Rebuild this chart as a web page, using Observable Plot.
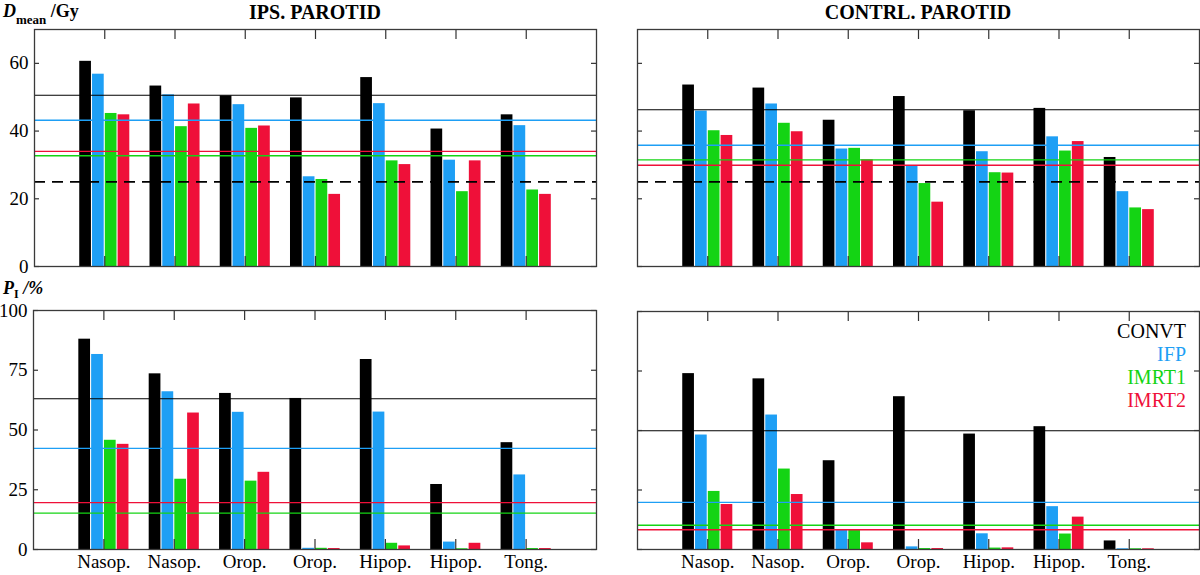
<!DOCTYPE html>
<html>
<head>
<meta charset="utf-8">
<script src="https://cdn.jsdelivr.net/npm/d3@7"></script>
<script src="https://cdn.jsdelivr.net/npm/@observablehq/plot@0.6"></script>
<style>
  body { margin: 0; background: #fff; font-family: "Liberation Serif", "Times New Roman", serif; }
  #wrap { position: relative; width: 1200px; height: 575px; overflow: hidden; background: #fff; }
  .panel { position: absolute; }
  .panel svg, .panel svg text { font-family: "Liberation Serif", "Times New Roman", serif !important; }
  .ttl { position: absolute; font-weight: bold; font-size: 20px; line-height: 20px; white-space: nowrap; transform: translateX(-50%); color: #000; }
  .ytitle { position: absolute; font-weight: bold; font-size: 18px; line-height: 20px; white-space: nowrap; color: #000; }
  .ytitle sub { font-size: 13px; vertical-align: -7px; line-height: 0; }
  .ytitle.p sub { font-size: 12px; vertical-align: -4px; }
  #legend { position: absolute; right: 14px; top: 320px; text-align: right; font-size: 20px; line-height: 23px; }
</style>
</head>
<body>
<div id="wrap"></div>
<script>
// ---- data ----
const categories = ["Nasop.", "Nasop.", "Orop.", "Orop.", "Hipop.", "Hipop.", "Tong."];
const series = ["CONVT", "IFP", "IMRT1", "IMRT2"];
const seriesColors = ["#000000", "#1e9ff5", "#14d414", "#ef1039"];

// Mean dose (Gy), ipsilateral parotid: rows = CONVT, IFP, IMRT1, IMRT2
const ipsDmean = [
  [60.6, 53.3, 50.4, 49.8, 55.8, 40.6, 44.8],
  [56.8, 50.7, 47.8, 26.5, 48.1, 31.4, 41.6],
  [45.2, 41.3, 40.8, 25.7, 31.2, 22.1, 22.6],
  [44.8, 48.0, 41.5, 21.3, 30.1, 31.2, 21.3]
];
const ipsDmeanAvg = [50.6, 43.2, 32.7, 34.0];

// Mean dose (Gy), contralateral parotid
const conDmean = [
  [53.6, 52.7, 43.2, 50.2, 46.0, 46.7, 32.2],
  [45.9, 48.0, 34.7, 29.7, 33.9, 38.3, 22.1],
  [40.1, 42.3, 34.9, 24.5, 27.7, 34.1, 17.3],
  [38.7, 39.8, 31.5, 19.0, 27.6, 36.9, 16.8]
];
const conDmeanAvg = [46.3, 35.8, 31.5, 29.9];

const doseThreshold = [25];

// Complication probability (%), ipsilateral parotid
const ipsPI = [
  [88.0, 73.5, 65.3, 63.2, 79.5, 27.2, 44.7],
  [81.6, 66.0, 57.4, 0.5, 57.5, 3.1, 31.2],
  [45.7, 29.4, 28.6, 0.5, 2.6, 0.3, 0.4],
  [44.0, 57.1, 32.3, 0.4, 1.5, 2.6, 0.4]
];
const ipsPIAvg = [63.1, 42.3, 15.2, 19.6];

// Complication probability (%), contralateral parotid
const conPI = [
  [73.9, 71.7, 37.3, 64.2, 48.5, 51.6, 3.6],
  [48.1, 56.5, 8.3, 1.1, 6.6, 18.0, 0.3],
  [24.4, 33.8, 8.3, 0.4, 0.6, 6.5, 0.3],
  [18.9, 23.1, 2.8, 0.4, 0.7, 13.6, 0.3]
];
const conPIAvg = [49.9, 19.8, 10.2, 8.3];

const doseTicks = [0, 20, 40, 60];
const piTicks = [0, 25, 50, 75, 100];

// ---- drawing ----
const wrap = document.getElementById("wrap");
const positions = categories.map((c, i) => i + 1);
const BAR_W = 0.1665, BAR_STEP = 0.182, GROUP_OFF = -0.356;

function makePanel(vals, avgs, o) {
  const rows = [];
  series.forEach((s, j) => vals[j].forEach((v, i) => rows.push({pos: i + 1, j, series: s, value: v})));
  const refRows = series.map((s, j) => ({series: s, value: avgs[j]}));
  const fw = o.width - o.ml - o.mr;
  const fh = o.height - o.mt - o.mb;
  const marks = [
    Plot.rectY(rows, {
      x1: d => d.pos + GROUP_OFF + d.j * BAR_STEP,
      x2: d => d.pos + GROUP_OFF + d.j * BAR_STEP + BAR_W,
      y1: 0, y2: "value", fill: "series"
    }),
    Plot.ruleY(refRows, {y: "value", stroke: "series", strokeWidth: d => d.series === "CONVT" ? 1.1 : 1.4})
  ];
  if (o.threshold) marks.push(Plot.ruleY(o.threshold, {y: d => d, stroke: "#000", strokeWidth: 1.7, strokeDasharray: "11,7"}));
  marks.push(
    Plot.tickX(positions, {x: d => d, insetBottom: fh - 10, stroke: "#333", strokeWidth: 1.2}),
    Plot.tickX(positions, {x: d => d, insetTop: fh - 10, stroke: "#333", strokeWidth: 1.2}),
    Plot.tickY(o.ticks, {y: d => d, insetRight: fw - 5, stroke: "#333", strokeWidth: 1.2}),
    Plot.tickY(o.ticks, {y: d => d, insetLeft: fw - 5, stroke: "#333", strokeWidth: 1.2}),
    Plot.frame({stroke: "#3a3a3a", strokeWidth: 1.3})
  );
  if (o.yLabels) marks.push(Plot.axisY(o.ticks, {tickSize: 0, tickPadding: 6, fontSize: 19, label: null}));
  if (o.xLabels) marks.push(Plot.axisX(positions, {tickSize: 0, tickPadding: 5, fontSize: 19, label: null, tickFormat: i => categories[i - 1]}));
  const svg = Plot.plot({
    width: o.width, height: o.height,
    marginLeft: o.ml, marginRight: o.mr, marginTop: o.mt, marginBottom: o.mb,
    x: {type: "linear", domain: [0, 8], axis: null, label: null},
    y: {domain: o.domain, axis: null, label: null},
    color: {domain: series, range: seriesColors},
    style: {fontFamily: "'Liberation Serif', 'Times New Roman', serif", fontSize: "19px", color: "#000", background: "transparent", overflow: "visible"},
    marks
  });
  const div = document.createElement("div");
  div.className = "panel";
  div.style.left = o.left + "px";
  div.style.top = o.top + "px";
  div.appendChild(svg);
  wrap.appendChild(div);
}

makePanel(ipsDmean, ipsDmeanAvg, {left: 0, top: 0, width: 600, height: 280, ml: 34, mr: 4, mt: 29, mb: 14,
  domain: [0, 70], ticks: doseTicks, yLabels: true, xLabels: false, threshold: doseThreshold});
makePanel(conDmean, conDmeanAvg, {left: 600, top: 0, width: 600, height: 280, ml: 37, mr: 1, mt: 29, mb: 14,
  domain: [0, 70], ticks: doseTicks, yLabels: false, xLabels: false, threshold: doseThreshold});
makePanel(ipsPI, ipsPIAvg, {left: 0, top: 280, width: 600, height: 295, ml: 33, mr: 4, mt: 30, mb: 26,
  domain: [0, 100], ticks: piTicks, yLabels: true, xLabels: true});
makePanel(conPI, conPIAvg, {left: 600, top: 280, width: 600, height: 295, ml: 37, mr: 1, mt: 31, mb: 26,
  domain: [0, 100], ticks: piTicks, yLabels: false, xLabels: true});

// titles
function addText(html, cls, left, top) {
  const d = document.createElement("div");
  d.className = cls;
  d.style.left = left + "px";
  d.style.top = top + "px";
  d.innerHTML = html;
  wrap.appendChild(d);
}
addText("IPS. PAROTID", "ttl", 315, 2);
addText("CONTRL. PAROTID", "ttl", 918, 2);
addText("<i>D</i><sub>mean</sub> /Gy", "ytitle", 3, 1);
addText("<i>P</i><sub>I</sub> <i>/%</i>", "ytitle p", 3, 278);

// legend
const leg = document.createElement("div");
leg.id = "legend";
series.forEach((s, j) => {
  const r = document.createElement("div");
  r.textContent = s;
  r.style.color = seriesColors[j];
  leg.appendChild(r);
});
wrap.appendChild(leg);
</script>
</body>
</html>
